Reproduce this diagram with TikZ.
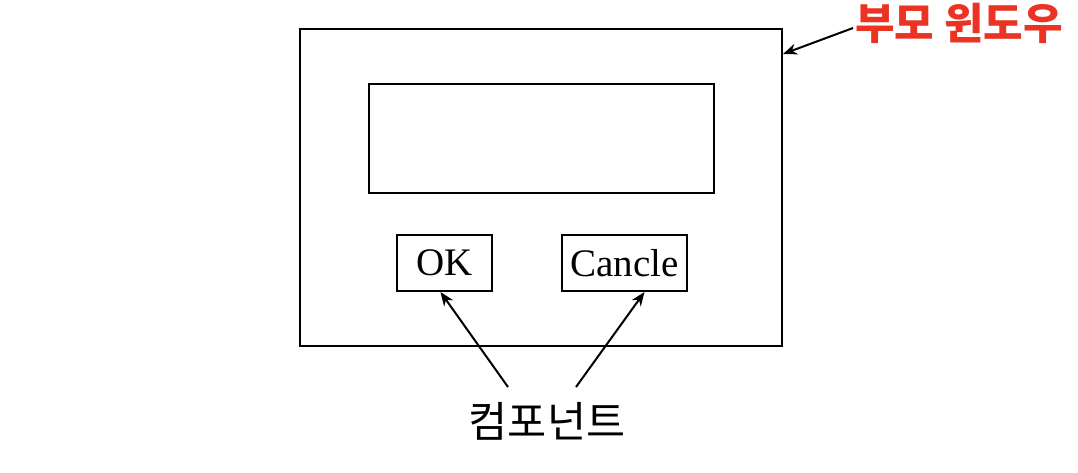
\documentclass[tikz,border=0pt]{standalone}
\usepackage{fontspec}
\setmainfont{Liberation Serif}
\newfontfamily\krfont{Noto Sans CJK KR}
\usepackage{tikz}
\usetikzlibrary{arrows.meta, positioning, calc}
\usepackage{xcolor}
\definecolor{parentred}{RGB}{234, 51, 35}
\tikzset{
    frame/.style={rectangle, draw=black, line width=2pt, inner sep=0pt},
    button/.style={rectangle, draw=black, line width=2pt, inner sep=0pt, minimum height=56pt, font=\fontsize{39}{40}\selectfont},
    label/.style={inner sep=0pt, font=\krfont\fontsize{42.5}{44}\selectfont},
    arrow/.style={line width=2pt, -{Stealth[length=14pt, width=11pt]}}
}
\begin{document}
\begin{tikzpicture}[x=1pt, y=-1pt]
    \useasboundingbox (0,0) rectangle (1078,472);

    % Parent window
    \node[frame, minimum width=482pt, minimum height=317pt] (window) at (541, 187.5) {};
    \node[frame, minimum width=345pt, minimum height=109pt] (textarea) at (541.5, 138.5) {};

    % Buttons
    \node[button, minimum width=95pt] (okbtn) at (444.5, 263) {OK};
    \node[button, minimum width=125pt] (cancelbtn) at (624.5, 263) {Cancle};

    % Labels
    \node[label] (complabel) at (547, 421) {컴포넌트};
    \node[label, anchor=west, text=parentred, font=\krfont\bfseries\fontsize{43}{45}\selectfont] (parentlabel) at (855, 23) {부모 윈도우};

    % Arrows
    \coordinate (compleft) at (508, 387);
    \coordinate (compright) at (576, 387);
    \draw[arrow] (compleft) -- ([xshift=-4pt]okbtn.south);
    \draw[arrow] (compright) -- ([xshift=20pt]cancelbtn.south);
    \draw[arrow] ([xshift=-2pt, yshift=-5pt]parentlabel.west) -- ([yshift=-26pt]window.north east);
\end{tikzpicture}
\end{document}
